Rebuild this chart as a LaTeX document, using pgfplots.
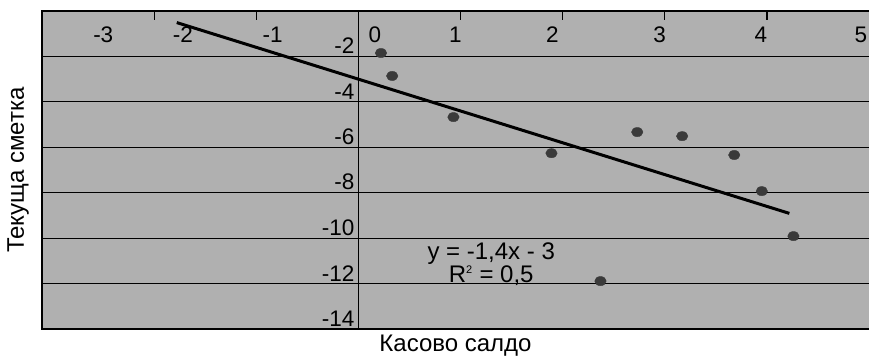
\documentclass[border=0pt]{standalone}
\usepackage{fontspec}
\setmainfont{Liberation Sans}
\usepackage{pgfplots}
\pgfplotsset{compat=1.18}
\usetikzlibrary{calc}
\definecolor{bggray}{RGB}{176,176,176}
\definecolor{dotgray}{RGB}{58,58,58}
\begin{document}
\begin{tikzpicture}
\begin{axis}[
  name=ax,
  scale only axis,
  width=827pt, height=318pt,
  xmin=-3.1, xmax=5.0, ymin=-14, ymax=0,
  clip=false,
  axis background/.style={fill=bggray},
  axis line style={draw=none},
  /pgf/number format/assume math mode=true,
  xtick={-2,-1,0,1,2,3,4},
  xticklabels={},
  xtick pos=upper,
  xticklabel pos=lower,
  xtick align=inside,
  major tick length=9pt,
  x tick style={black, line width=1.2pt},
  extra x ticks={-2.5,-1.72,-0.84,0.16,0.95,1.90,2.95,3.94,4.92},
  extra x tick labels={-3,-2,-1,0,1,2,3,4,5},
  extra x tick style={major tick length=0pt, xticklabel pos=lower,
     xticklabel style={anchor=center, yshift=294pt}},
  ytick={-2,-4,-6,-8,-10,-12,-14},
  ytick style={draw=none},
  yticklabel style={anchor=south east, xshift=316pt, yshift=-1pt},
  ymajorgrids,
  major grid style={black, line width=0.9pt},
  tick label style={font=\fontsize{22.5}{26}\selectfont},
]
\draw[black, line width=1.1pt] (axis cs:0,0) -- (axis cs:0,-14);
\addplot[only marks, mark=*, mark size=4.6pt, color=dotgray,
  mark options={xscale=1.25, draw=dotgray, fill=dotgray}] coordinates {
  (0.22,-1.85) (0.33,-2.86) (0.93,-4.67) (1.89,-6.26) (2.73,-5.33)
  (3.17,-5.51) (3.68,-6.34) (3.95,-7.93) (4.26,-9.91) (2.37,-11.89)
};
\addplot[black, line width=3pt] coordinates {(-1.78,-0.51) (4.22,-8.91)};
\node[align=center, font=\fontsize{24}{21}\selectfont] at (axis cs:1.30,-11.15)
  {y = -1,4x - 3\\R\textsuperscript{\fontsize{11}{11}\selectfont 2} = 0,5};
\draw[black, line width=2.5pt] (rel axis cs:1,1) -- (rel axis cs:0,1) -- (rel axis cs:0,0) -- (rel axis cs:1,0);
\end{axis}
\node[inner sep=0.5pt, font=\fontsize{24}{28}\selectfont] at ($(ax.south)+(0,-17pt)$) {Касово салдо};
\node[rotate=90, font=\fontsize{24}{28}\selectfont] at ($(ax.west)+(-24pt,0)$) {Текуща сметка};
\pgfresetboundingbox
\path[use as bounding box] ($(ax.south west)+(-42pt,-28pt)$) rectangle ($(ax.north east)+(0,11pt)$);
\end{tikzpicture}
\end{document}
